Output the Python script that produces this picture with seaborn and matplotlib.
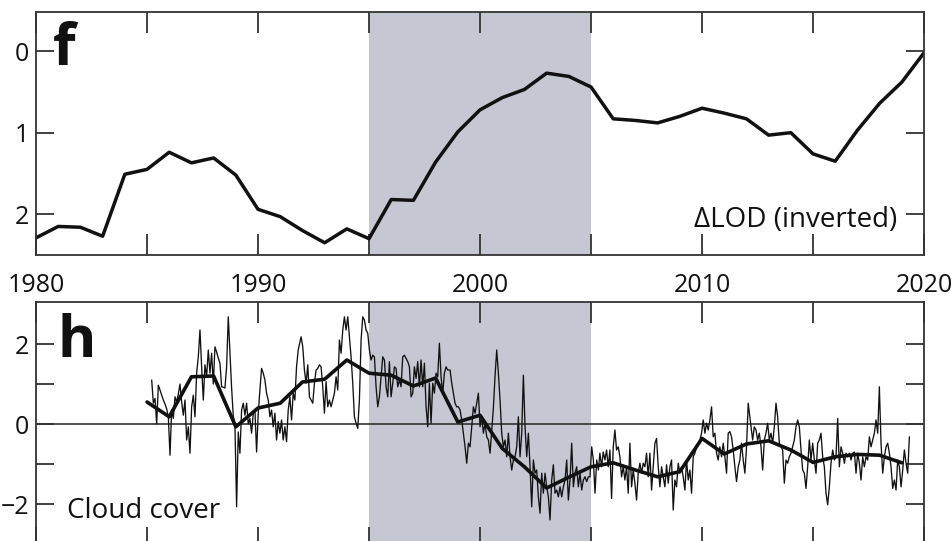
import numpy as np
import pandas as pd
import matplotlib
matplotlib.use("Agg")
import matplotlib.pyplot as plt
import seaborn as sns
from matplotlib.ticker import FuncFormatter

# panel f: length of day anomaly, yearly (plotted inverted)
lod_years = list(range(1980, 2021))
lod_values = [2.29, 2.15, 2.16, 2.27, 1.51, 1.45, 1.24, 1.37, 1.31, 1.52,
              1.94, 2.03, 2.20, 2.35, 2.18, 2.30, 1.82, 1.83, 1.36, 0.99,
              0.72, 0.57, 0.47, 0.27, 0.31, 0.44, 0.83, 0.85, 0.88, 0.80,
              0.70, 0.76, 0.83, 1.03, 1.00, 1.26, 1.35, 0.97, 0.64, 0.38,
              0.02]

# panel h: cloud cover, yearly smoothed curve
smooth_years = list(range(1985, 2020))
smooth_values = [0.55, 0.18, 1.18, 1.20, -0.07, 0.40, 0.52, 1.05, 1.12, 1.60,
                 1.27, 1.22, 0.95, 1.15, 0.05, 0.22, -0.61, -1.07, -1.60, -1.33,
                 -1.07, -0.97, -1.15, -1.32, -1.19, -0.36, -0.75, -0.50, -0.42, -0.65,
                 -0.96, -0.82, -0.76, -0.78, -0.97]

# panel h: cloud cover, monthly anomalies, read in five stretches
cloud_a = [1.1, 0.52, 0.64, 0.0, 0.97, 0.85, 0.72, 0.6, 0.5, 0.38,
           0.18, -0.78, 0.35, 0.14, 0.68, 0.55, 0.75, 1.0, 0.55, 0.22,
           0.6, -0.4, -0.07, -0.73, 0.43, 0.72, 0.18, 1.27, 1.68, 2.35,
           1.43, 0.6, 1.48, 1.18, 1.85, 1.27, 1.77, 1.0, 1.93, 1.8,
           1.65, 1.52, 0.93, 0.92, 0.9, 1.43, 2.68, 1.8, 0.9, 0.2,
           -0.03, -2.07, -0.2, -0.73, 0.35, 0.52, 0.22, 0.52, 0.0, 0.14,
           -0.23, 0.27, 0.35, -0.7, 0.27, 0.85, 1.39, 1.27, 1.1, 0.77,
           0.6, 0.18, 0.35, -0.07, 0.27, -0.4, 0.06, -0.23, 0.1, -0.4,
           -0.07, -0.44, 0.35, 0.68, 0.1, 0.77, 0.6, 1.43, 1.85]
cloud_b = [2.18, 1.93, 1.35, 1.02, 1.48, 0.68, 0.6, 0.52, 1.02, 1.35,
           1.39, 1.48, 1.43, 0.93, 0.27, 1.06, 0.43, 0.6, 0.43, 0.6,
           0.77, 1.18, 0.85, 2.1, 1.77, 2.35, 2.68, 2.35, 2.68, 2.18,
           1.68, 1.02, 0.18, 0.02, -0.11, 0.6, 2.1, 2.68, 2.6, 2.35,
           2.27, 1.85, 1.6, 1.72, 1.68, 0.93, 0.43, 0.68, 1.18, 1.68,
           1.6, 0.93, 0.68, 1.56, 0.68, 1.02, 1.43, 1.39, 0.93, 1.1,
           0.93, 1.68, 1.72, 1.64, 1.56, 1.43, 0.68, 0.77, 1.43, 1.14,
           1.56, 0.93, 1.6, 0.93, 1.52, 0.43, -0.07, 1.02, 0.02, 1.02,
           0.77, 1.27, 1.18, 2.02, 1.18, 0.77, 1.27, 1.43, 1.35, 1.35]
cloud_c = [1.35, 1.02, 0.77, 0.52, 0.43, 0.43, 0.35, 0.1, -0.23, -0.57,
           -0.98, -0.48, -0.57, -0.07, 0.43, 0.27, 0.52, 0.77, -0.07, 0.18,
           -0.23, 0.02, -0.32, -0.4, -0.73, -0.15, 0.4, 1.2, 1.85, 1.27,
           0.6, -0.23, -0.57, -0.4, -0.82, -0.23, -0.82, -1.15, -0.9, -0.82,
           -0.57, 0.18, -0.82, -0.23, 1.22, -0.07, -0.82, -0.23, -1.07, -2.07,
           -0.9, -1.23, -1.15, -1.82, -2.23, -1.23, -1.73, -1.23, -1.57, -1.82,
           -2.4, -1.4, -1.02, -1.73, -1.65, -1.82, -1.57, -1.82, -1.57, -1.4,
           -0.9, -1.9, -1.4, -0.48, -1.57, -1.23, -1.07, -1.57, -1.23, -1.65,
           -1.4, -1.32, -1.44, -1.32, -1.32, -0.57, -0.9, -1.73, -0.9, -1.15]
cloud_d = [-0.73, -1.07, -0.7, -0.9, -0.65, -1.07, -0.65, -1.86, -0.57, -0.15,
           -0.65, -0.57, -0.82, -1.32, -1.07, -1.4, -1.07, -1.73, -0.48, -1.57,
           -1.15, -1.48, -1.9, -1.23, -0.98, -1.23, -0.98, -1.07, -0.73, -1.32,
           -0.73, -1.65, -1.07, -0.48, -0.36, -1.07, -1.57, -1.07, -1.32, -1.57,
           -1.02, -1.48, -1.07, -0.9, -2.15, -1.4, -1.57, -0.98, -1.23, -1.07,
           -1.32, -1.65, -0.9, -1.4, -1.15, -1.73, -0.82, -0.73, -0.57, -0.48,
           -0.4, -0.23, 0.1, -0.23, 0.02, -0.15, 0.1, 0.43, -0.32, -0.23,
           -0.73, -0.9, -0.57, -0.82, -0.48, -0.82, -1.23, -0.23, -0.19, -0.32,
           -0.65, -1.07, -1.44, -1.07, -0.9, -0.48, -0.9, -1.23, -0.57, 0.52]
cloud_e = [-0.4, -0.07, -0.15, -0.4, -0.23, -0.57, -1.15, -0.4, -0.23, 0.02,
           -0.4, -0.23, -0.48, -0.07, 0.52, 0.18, -0.48, -0.57, -0.65, -1.48,
           -0.9, -0.98, -0.82, -0.73, -0.57, -0.4, -0.07, 0.1, -0.07, -0.65,
           -1.15, -1.23, -1.61, -1.07, -0.4, -0.9, -0.48, -0.9, -1.23, -0.48,
           -0.4, -0.23, -0.82, -1.07, -1.73, -2.02, -1.57, -0.98, -0.65, -0.9,
           -0.82, 0.14, -1.07, -0.57, -0.73, -0.98, -0.73, -0.82, -0.73, -0.9,
           -0.73, -0.7, -1.23, -0.73, -0.98, -1.4, -0.82, -1.07, -0.82, -0.9,
           -0.32, -0.57, -0.4, -0.23, 0.1, -0.23, 0.93, -0.48, -1.23, -0.82,
           -0.57, -0.48, -0.73, -1.07, -1.61, -1.4, -1.65, -0.9, -1.07, -1.57,
           -1.15, -0.65, -0.98, -1.23, -0.32]
# first and last decimal year of each stretch
cloud_spans = [(1985.21, 1991.81), (1991.94, 1998.62), (1998.65, 2005.33),
               (2005.40, 2012.08), (2012.28, 2019.34)]

shade_start, shade_end = 1995, 2005

sns.set_theme(style="ticks")
plt.rcParams['font.family'] = ['Open Sans', 'DejaVu Sans']

ink = '#111111'
frame = '#333333'
shade = '#c5c8d3'

# build the monthly frame
parts = []
for vals, (t0, t1) in zip([cloud_a, cloud_b, cloud_c, cloud_d, cloud_e], cloud_spans):
  parts.append(pd.DataFrame({'year': np.linspace(t0, t1, len(vals)), 'cloud': vals}))
cloud_df = pd.concat(parts, ignore_index=True)

lod_df = pd.DataFrame({'year': lod_years, 'lod': lod_values})
smooth_df = pd.DataFrame({'year': smooth_years, 'cloud': smooth_values})

fig = plt.figure(figsize=(9.53, 5.41), dpi=100)
ax1 = fig.add_axes([0.0378, 0.5287, 0.9318, 0.4491])
ax2 = fig.add_axes([0.0378, -0.01294, 0.9318, 0.4547])

for ax in (ax1, ax2):
  ax.axvspan(shade_start, shade_end, color=shade, lw=0, zorder=0)

sns.lineplot(data=lod_df, x='year', y='lod', ax=ax1, color=ink, lw=2.5)

ax2.axhline(0, color=frame, lw=1.2, zorder=1)
sns.lineplot(data=cloud_df, x='year', y='cloud', ax=ax2, color=ink, lw=0.95,
             estimator=None, sort=False)
sns.lineplot(data=smooth_df, x='year', y='cloud', ax=ax2, color=ink, lw=2.6)

ten_only = FuncFormatter(lambda v, pos: f"{int(v)}" if int(v) % 10 == 0 else "")

for ax in (ax1, ax2):
  ax.set_xlim(1980, 2020)
  ax.set_xticks(range(1980, 2021, 5))
  ax.xaxis.set_major_formatter(ten_only)
  ax.tick_params(axis='x', direction='in', length=15, width=1.3, color=frame,
                 top=True, bottom=True, labelbottom=False, labeltop=False)
  ax.tick_params(axis='y', direction='in', length=13, width=1.3, color=frame,
                 left=True, right=True, labelsize=18, pad=5, labelcolor='#111')
  ax.set_xlabel('')
  ax.set_ylabel('')
  for s in ax.spines.values():
    s.set_linewidth(1.3)
    s.set_color(frame)

ax1.set_ylim(2.5, -0.48)
ax1.set_yticks([0, 1, 2])
ax1.set_yticklabels(['0', '1', '2'])

ax2.set_ylim(-3.1, 3.05)
ax2.set_yticks([-2, -1, 0, 1, 2])
ax2.set_yticklabels(['\u22122', '', '0', '', '2'])
ax2.tick_params(axis='x', labeltop=True, labelsize=18, pad=3, labelcolor='#111')

ax1.text(1980.75, 0.17, 'f', fontsize=42, fontweight='bold', ha='left', va='baseline', color=ink)
ax2.text(1980.95, 1.68, 'h', fontsize=42, fontweight='bold', ha='left', va='baseline', color=ink)
ax1.text(2018.8, 2.16, '\u0394LOD (inverted)', fontsize=20, ha='right', va='baseline', color=ink)
ax2.text(1981.4, -2.35, 'Cloud cover', fontsize=20, ha='left', va='baseline', color=ink)

fig.savefig('out.png', dpi=100)
